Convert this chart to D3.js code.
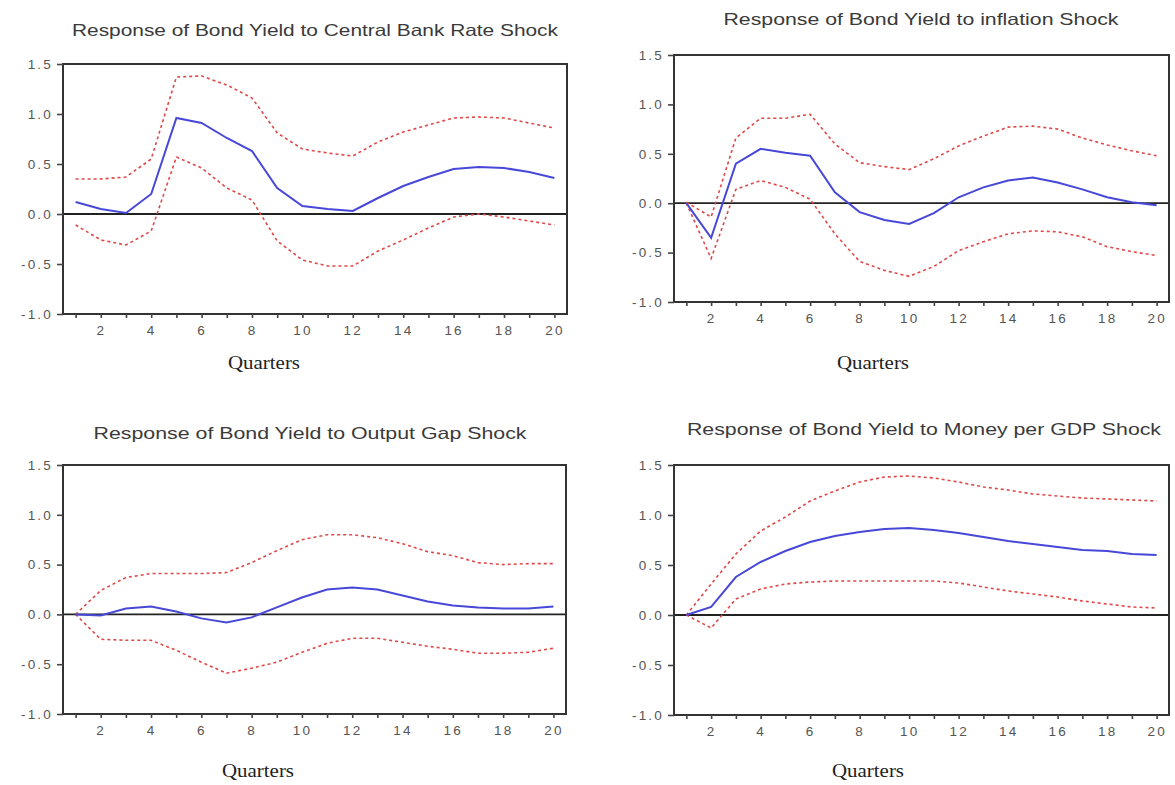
<!DOCTYPE html>
<html>
<head>
<meta charset="utf-8">
<script src="https://cdn.jsdelivr.net/npm/d3@7"></script>
<style>
  body { margin: 0; background: #fff; }
  svg { display: block; }
</style>
</head>
<body>
<svg id="chart" width="1175" height="785"></svg>
<script>
// quarters on the horizontal axis
const quarters = [1, 2, 3, 4, 5, 6, 7, 8, 9, 10, 11, 12, 13, 14, 15, 16, 17, 18, 19, 20];
const xTickLabels = [2, 4, 6, 8, 10, 12, 14, 16, 18, 20];
const yTicks = [-1.0, -0.5, 0.0, 0.5, 1.0, 1.5];

const titles = [
  "Response of Bond Yield to Central Bank Rate Shock",
  "Response of  Bond Yield to inflation Shock",
  "Response of  Bond Yield to Output Gap Shock",
  "Response of  Bond Yield to Money per GDP Shock"
];

// central bank rate shock
const cbResp  = [0.12, 0.05, 0.01, 0.20, 0.96, 0.91, 0.76, 0.63, 0.26, 0.08, 0.05, 0.03, 0.16, 0.28, 0.37, 0.45, 0.47, 0.46, 0.42, 0.36];
const cbUpper = [0.35, 0.35, 0.37, 0.55, 1.37, 1.38, 1.29, 1.16, 0.81, 0.65, 0.61, 0.58, 0.72, 0.82, 0.89, 0.96, 0.97, 0.96, 0.91, 0.86];
const cbLower = [-0.11, -0.26, -0.31, -0.17, 0.57, 0.46, 0.26, 0.14, -0.27, -0.46, -0.52, -0.52, -0.37, -0.26, -0.14, -0.03, 0.00, -0.03, -0.07, -0.11];

// inflation shock
const infResp  = [0.00, -0.35, 0.40, 0.55, 0.51, 0.48, 0.11, -0.09, -0.17, -0.21, -0.10, 0.06, 0.16, 0.23, 0.26, 0.21, 0.14, 0.06, 0.01, -0.02];
const infUpper = [0.01, -0.14, 0.66, 0.86, 0.86, 0.90, 0.60, 0.41, 0.37, 0.34, 0.45, 0.58, 0.68, 0.77, 0.78, 0.75, 0.66, 0.59, 0.53, 0.48];
const infLower = [0.00, -0.56, 0.14, 0.23, 0.16, 0.04, -0.31, -0.59, -0.68, -0.74, -0.64, -0.48, -0.39, -0.31, -0.28, -0.29, -0.34, -0.44, -0.49, -0.53];

// output gap shock
const gapResp  = [0.00, -0.01, 0.06, 0.08, 0.03, -0.04, -0.08, -0.03, 0.07, 0.17, 0.25, 0.27, 0.25, 0.19, 0.13, 0.09, 0.07, 0.06, 0.06, 0.08];
const gapUpper = [0.00, 0.24, 0.37, 0.41, 0.41, 0.41, 0.42, 0.52, 0.64, 0.75, 0.80, 0.80, 0.77, 0.71, 0.63, 0.59, 0.52, 0.50, 0.51, 0.51];
const gapLower = [0.00, -0.25, -0.26, -0.26, -0.36, -0.48, -0.59, -0.54, -0.48, -0.38, -0.29, -0.24, -0.24, -0.28, -0.32, -0.35, -0.39, -0.39, -0.38, -0.34];

// money per GDP shock
const monResp  = [0.00, 0.08, 0.38, 0.53, 0.64, 0.73, 0.79, 0.83, 0.86, 0.87, 0.85, 0.82, 0.78, 0.74, 0.71, 0.68, 0.65, 0.64, 0.61, 0.60];
const monUpper = [0.00, 0.31, 0.61, 0.84, 0.98, 1.14, 1.24, 1.33, 1.38, 1.39, 1.37, 1.33, 1.28, 1.25, 1.21, 1.19, 1.17, 1.16, 1.15, 1.14];
const monLower = [0.00, -0.13, 0.16, 0.26, 0.31, 0.33, 0.34, 0.34, 0.34, 0.34, 0.34, 0.32, 0.28, 0.24, 0.21, 0.18, 0.14, 0.11, 0.08, 0.07];

// panel boxes (pixel layout)
const panels = [
  { title: titles[0], resp: cbResp,  upper: cbUpper,  lower: cbLower,
    left: 63,  right: 567,  top: 64,  bottom: 314, tx: 315, ty: 30,  tw: 486, qx: 264, qy: 363 },
  { title: titles[1], resp: infResp, upper: infUpper, lower: infLower,
    left: 674, right: 1169, top: 55,  bottom: 302, tx: 921, ty: 19,  tw: 395, qx: 873, qy: 363 },
  { title: titles[2], resp: gapResp, upper: gapUpper, lower: gapLower,
    left: 63,  right: 566,  top: 465, bottom: 714, tx: 310, ty: 433, tw: 433, qx: 258, qy: 771 },
  { title: titles[3], resp: monResp, upper: monUpper, lower: monLower,
    left: 674, right: 1169, top: 465, bottom: 715, tx: 924, ty: 429, tw: 474, qx: 868, qy: 771 }
];

const svg = d3.select("#chart");
const sans = "'Liberation Sans', Arial, sans-serif";

panels.forEach(p => {
  const x = d3.scaleLinear().domain([0.5, 20.5]).range([p.left, p.right]);
  const y = d3.scaleLinear().domain([-1.0, 1.5]).range([p.bottom, p.top]);

  const g = svg.append("g");

  // title
  g.append("text")
    .attr("x", p.tx)
    .attr("y", p.ty)
    .attr("dy", "0.35em")
    .attr("text-anchor", "middle")
    .attr("font-family", sans)
    .attr("font-size", 16.5)
    .attr("fill", "#3a3a3a")
    .attr("textLength", p.tw)
    .attr("lengthAdjust", "spacingAndGlyphs")
    .text(p.title);

  // zero line
  g.append("line")
    .attr("x1", p.left).attr("x2", p.right)
    .attr("y1", y(0)).attr("y2", y(0))
    .attr("stroke", "#222")
    .attr("stroke-width", 1.8);

  // plot frame
  g.append("rect")
    .attr("x", p.left).attr("y", p.top)
    .attr("width", p.right - p.left)
    .attr("height", p.bottom - p.top)
    .attr("fill", "none")
    .attr("stroke", "#333")
    .attr("stroke-width", 2);

  // y axis
  const yAxis = g.append("g")
    .attr("transform", `translate(${p.left},0)`)
    .call(d3.axisLeft(y).tickValues(yTicks).tickFormat(d3.format(".1f")).tickSize(6).tickPadding(4));
  yAxis.select(".domain").remove();
  yAxis.selectAll("line").attr("stroke", "#444").attr("stroke-width", 1.6);
  yAxis.selectAll("text")
    .attr("font-family", sans)
    .attr("font-size", 13.5)
    .attr("letter-spacing", "2.2px")
    .attr("fill", "#555")
    .text(d => d3.format(".1f")(d).replace("−", "-"));

  // x axis, ticks on every quarter, labels on even ones
  const xAxis = g.append("g")
    .attr("transform", `translate(0,${p.bottom})`)
    .call(d3.axisBottom(x).tickValues(quarters).tickSize(4).tickPadding(7)
      .tickFormat(d => xTickLabels.includes(d) ? d : ""));
  xAxis.select(".domain").remove();
  xAxis.selectAll("line").attr("stroke", "#444").attr("stroke-width", 1.6);
  xAxis.selectAll("text")
    .attr("font-family", sans)
    .attr("font-size", 13.5)
    .attr("letter-spacing", "2.2px")
    .attr("fill", "#555");

  const line = d3.line()
    .x((d, i) => x(quarters[i]))
    .y(d => y(d));

  // confidence bands
  [p.upper, p.lower].forEach(band => {
    g.append("path")
      .datum(band)
      .attr("d", line)
      .attr("fill", "none")
      .attr("stroke", "#e04848")
      .attr("stroke-width", 1.6)
      .attr("stroke-dasharray", "3,3");
  });

  // impulse response
  g.append("path")
    .datum(p.resp)
    .attr("d", line)
    .attr("fill", "none")
    .attr("stroke", "#4848d8")
    .attr("stroke-width", 2);

  // x axis title
  g.append("text")
    .attr("x", p.qx)
    .attr("y", p.qy)
    .attr("dy", "0.35em")
    .attr("text-anchor", "middle")
    .attr("font-family", "'Liberation Serif', 'Times New Roman', serif")
    .attr("font-size", 18)
    .attr("fill", "#222")
    .attr("textLength", 72)
    .attr("lengthAdjust", "spacingAndGlyphs")
    .text("Quarters");
});
</script>
</body>
</html>
